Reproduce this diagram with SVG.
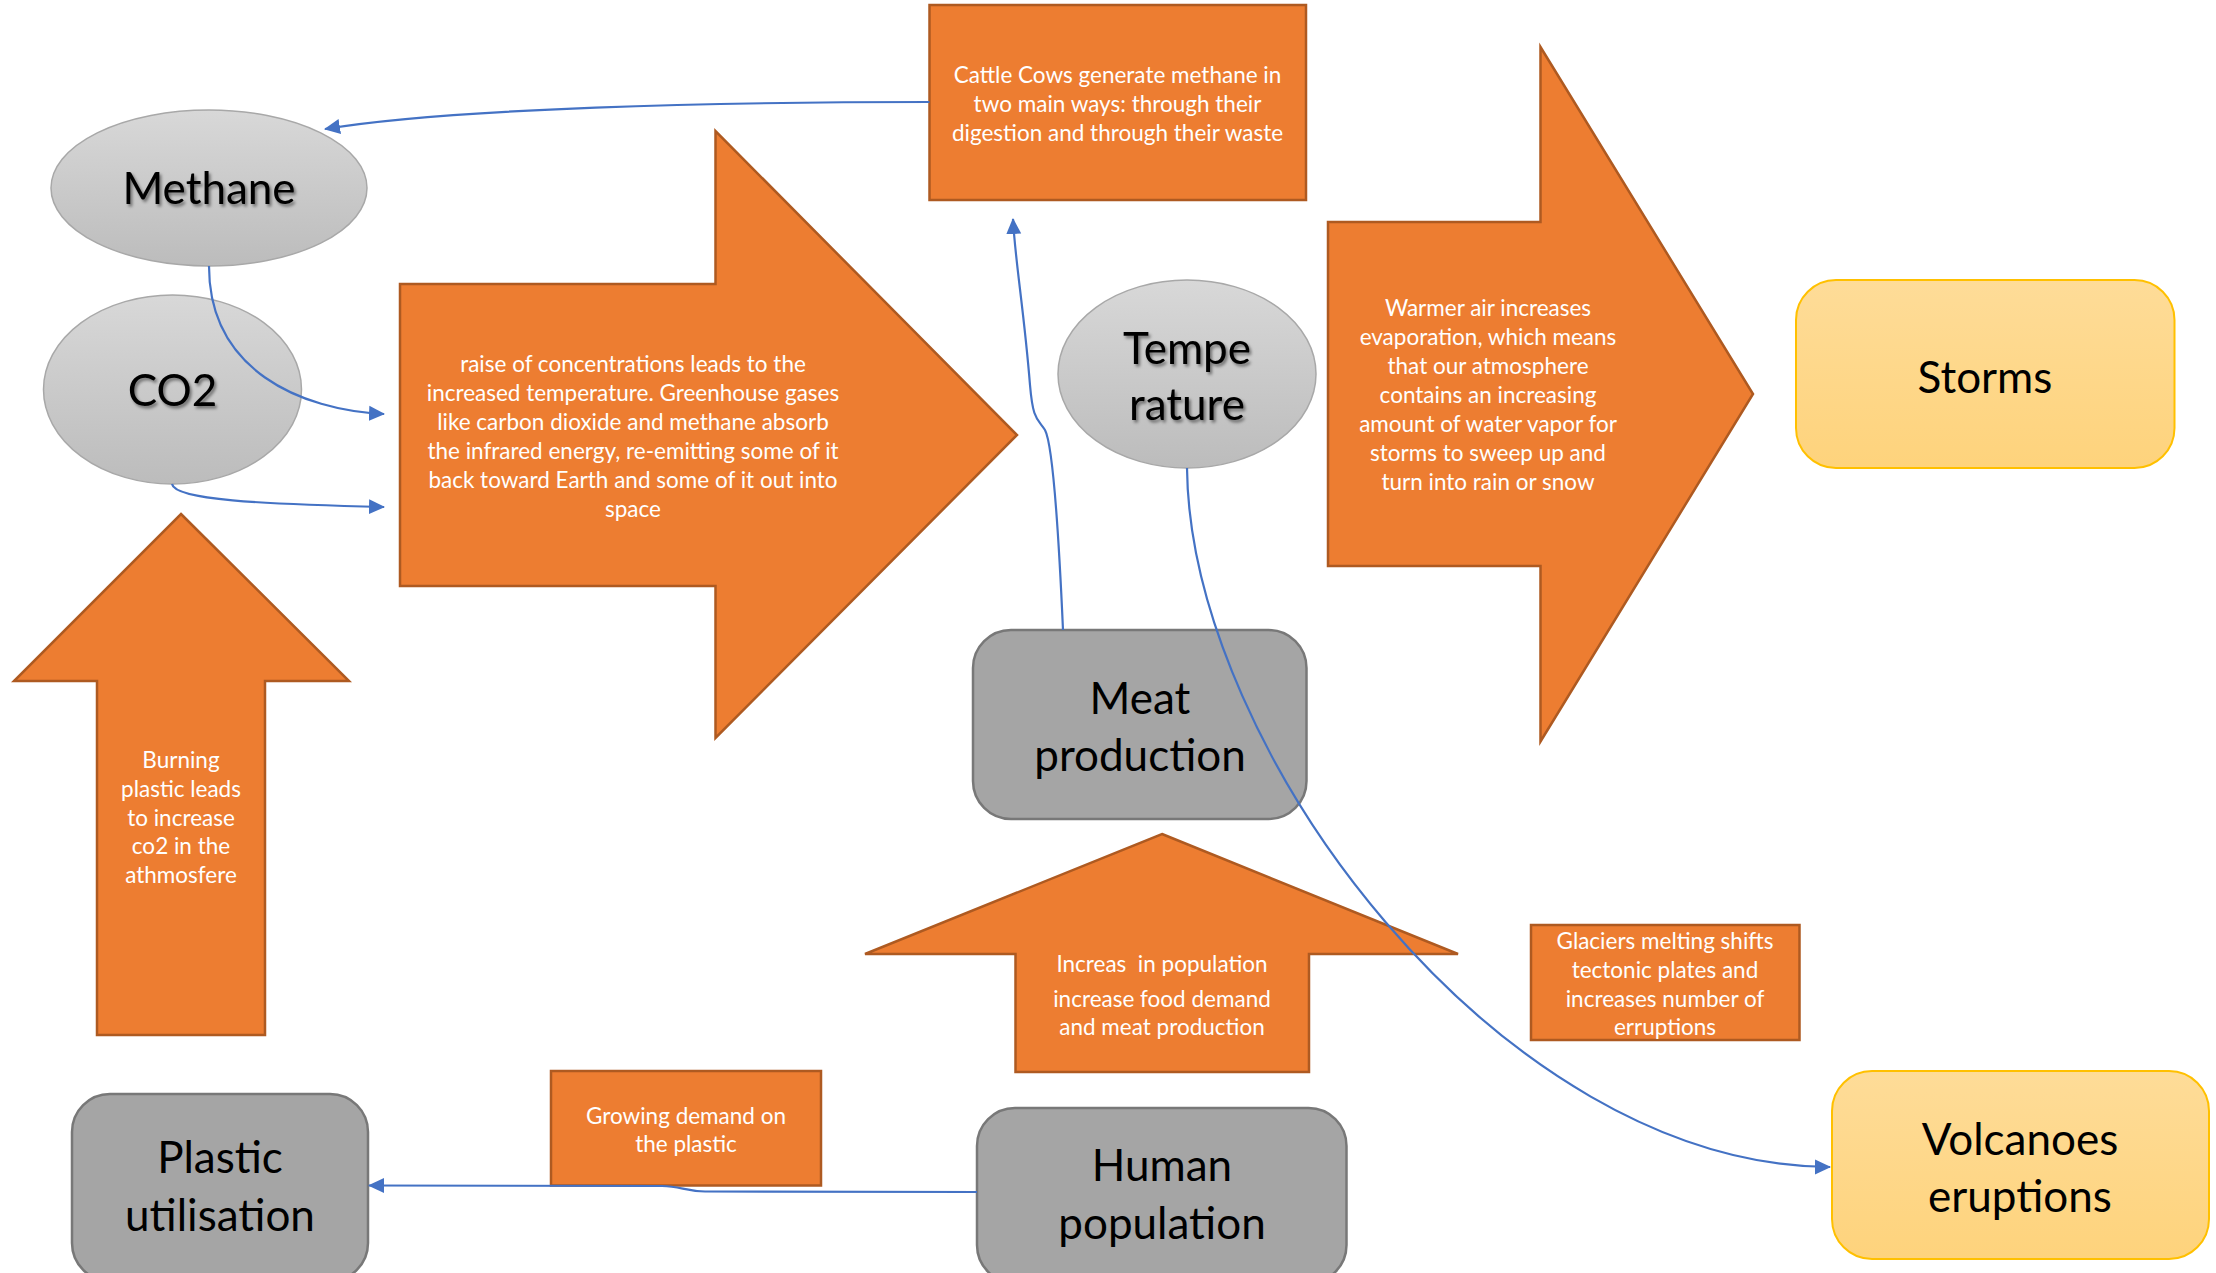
<svg xmlns="http://www.w3.org/2000/svg" width="2216" height="1273" viewBox="0 0 2216 1273">
  <defs>
    <linearGradient id="gEll" x1="0" y1="0" x2="0" y2="1">
      <stop offset="0" stop-color="#d8d8d8"/>
      <stop offset="1" stop-color="#bcbcbc"/>
    </linearGradient>
    <linearGradient id="gGold" x1="0" y1="0" x2="0" y2="1">
      <stop offset="0" stop-color="#fedc98"/>
      <stop offset="1" stop-color="#fed37c"/>
    </linearGradient>
    <filter id="shadow" x="-10%" y="-20%" width="130%" height="150%">
      <feDropShadow dx="2" dy="2.5" stdDeviation="1.6" flood-color="#000" flood-opacity="0.45"/>
    </filter>
    <marker id="ah" viewBox="0 0 16 16" refX="15" refY="8" markerWidth="16" markerHeight="16" markerUnits="userSpaceOnUse" orient="auto">
      <path d="M0,0.5 L16,8 L0,15.5 z" fill="#4472C4"/>
    </marker>
  </defs>
  <style>
    .orange { fill: #ED7D31; stroke: #AE5A21; stroke-width: 2.5; }
    .ell { fill: url(#gEll); stroke: #a8a8a8; stroke-width: 1.5; }
    .grey { fill: #A5A5A5; stroke: #787878; stroke-width: 2.5; }
    .gold { fill: url(#gGold); stroke: #FFC000; stroke-width: 2; }
    .small { font-family: Lato, "Liberation Sans", sans-serif; font-size: 22.5px; fill: #ffffff; text-anchor: middle; }
    .big { font-family: Lato, "Liberation Sans", sans-serif; font-size: 44px; fill: #000000; text-anchor: middle; }
    .conn { fill: none; stroke: #4472C4; stroke-width: 2.2; marker-end: url(#ah); }
  </style>

  <!-- Greenhouse effect: large right arrow -->
  <g id="arrow-greenhouse">
    <path class="orange" d="M400,284 L715.5,284 L715.5,131 L1017,435 L715.5,738 L715.5,586 L400,586 Z"/>
    <text class="small"><tspan x="633" y="372">raise of concentrations leads to the</tspan><tspan x="633" y="401">increased temperature. Greenhouse gases</tspan><tspan x="633" y="430">like carbon dioxide and methane absorb</tspan><tspan x="633" y="459">the infrared energy, re-emitting some of it</tspan><tspan x="633" y="488">back toward Earth and some of it out into</tspan><tspan x="633" y="517">space</tspan></text>
  </g>

  <!-- Evaporation: large right arrow -->
  <g id="arrow-evaporation">
    <path class="orange" d="M1328,222 L1540.5,222 L1540.5,47 L1753,394 L1540.5,741.5 L1540.5,566 L1328,566 Z"/>
    <text class="small"><tspan x="1488" y="316">Warmer air increases</tspan><tspan x="1488" y="345">evaporation, which means</tspan><tspan x="1488" y="374">that our atmosphere</tspan><tspan x="1488" y="403">contains an increasing</tspan><tspan x="1488" y="432">amount of water vapor for</tspan><tspan x="1488" y="461">storms to sweep up and</tspan><tspan x="1488" y="490">turn into rain or snow</tspan></text>
  </g>

  <!-- Burning plastic: up arrow -->
  <g id="arrow-burning">
    <path class="orange" d="M181,514 L349,681 L265,681 L265,1035 L97,1035 L97,681 L14,681 Z"/>
    <text class="small"><tspan x="181" y="768">Burning</tspan><tspan x="181" y="797">plastic leads</tspan><tspan x="181" y="826">to increase</tspan><tspan x="181" y="854">co2 in the</tspan><tspan x="181" y="883">athmosfere</tspan></text>
  </g>

  <!-- Population growth: up arrow -->
  <g id="arrow-population">
    <path class="orange" d="M1162,834 L1458,954 L1309,954 L1309,1072 L1015.5,1072 L1015.5,954 L865,954 Z"/>
    <text class="small"><tspan x="1162" y="972">Increas &#160;in population</tspan><tspan x="1162" y="1007">increase food demand</tspan><tspan x="1162" y="1035">and meat production</tspan></text>
  </g>

  <!-- Cattle note -->
  <g id="note-cattle">
    <rect class="orange" x="929.5" y="5" width="376.5" height="195"/>
    <text class="small"><tspan x="1117.5" y="83">Cattle Cows generate methane in</tspan><tspan x="1117.5" y="112">two main ways: through their</tspan><tspan x="1117.5" y="141">digestion and through their waste</tspan></text>
  </g>

  <!-- Glaciers note -->
  <g id="note-glaciers">
    <rect class="orange" x="1531" y="925" width="268.5" height="115"/>
    <text class="small"><tspan x="1665" y="949">Glaciers melting shifts</tspan><tspan x="1665" y="978">tectonic plates and</tspan><tspan x="1665" y="1007">increases number of</tspan><tspan x="1665" y="1035">erruptions</tspan></text>
  </g>

  <!-- Plastic demand note -->
  <g id="note-plastic-demand">
    <rect class="orange" x="551" y="1071" width="270" height="114.5"/>
    <text class="small"><tspan x="686" y="1124">Growing demand on</tspan><tspan x="686" y="1152">the plastic</tspan></text>
  </g>

  <!-- Gas and temperature nodes -->
  <g id="node-methane">
    <ellipse class="ell" cx="209" cy="188" rx="158" ry="78"/>
    <text class="big" x="209" y="204" filter="url(#shadow)">Methane</text>
  </g>
  <g id="node-co2">
    <ellipse class="ell" cx="172.5" cy="389.5" rx="129" ry="94.5"/>
    <text class="big" x="172.5" y="406" filter="url(#shadow)">CO2</text>
  </g>
  <g id="node-temperature">
    <ellipse class="ell" cx="1187" cy="374" rx="129" ry="94"/>
    <text class="big" filter="url(#shadow)"><tspan x="1187" y="364">Tempe</tspan><tspan x="1187" y="420">rature</tspan></text>
  </g>

  <!-- Human activity nodes -->
  <g id="node-meat">
    <rect class="grey" x="973" y="630" width="333.5" height="189" rx="38"/>
    <text class="big"><tspan x="1140" y="714">Meat</tspan><tspan x="1140" y="771">production</tspan></text>
  </g>
  <g id="node-human">
    <rect class="grey" x="977" y="1108" width="369.5" height="175" rx="38"/>
    <text class="big"><tspan x="1162" y="1181">Human</tspan><tspan x="1162" y="1239">population</tspan></text>
  </g>
  <g id="node-plastic">
    <rect class="grey" x="72" y="1094" width="296" height="187" rx="38"/>
    <text class="big"><tspan x="220" y="1173">Plastic</tspan><tspan x="220" y="1231">utilisation</tspan></text>
  </g>

  <!-- Outcome nodes -->
  <g id="node-storms">
    <rect class="gold" x="1796" y="280" width="378.5" height="188" rx="40"/>
    <text class="big" x="1985" y="393">Storms</text>
  </g>
  <g id="node-volcanoes">
    <rect class="gold" x="1832" y="1071" width="377" height="188" rx="40"/>
    <text class="big"><tspan x="2020" y="1155">Volcanoes</tspan><tspan x="2020" y="1212">eruptions</tspan></text>
  </g>

  <!-- Connectors -->
  <g id="connectors">
    <path class="conn" d="M929.5,102 C720,102 450,108 325,129"/>
    <path class="conn" d="M209,266 C209,370 300,410 384,414"/>
    <path class="conn" d="M172,484 C175,500 260,504 384,507"/>
    <path class="conn" d="M1063,630 C1059,540 1053,445 1045,430 C1037,418 1033,420 1030,385 C1024,310 1015,260 1013,219"/>
    <path class="conn" d="M1187,468 C1190,750 1500,1165 1830,1167"/>
    <path class="conn" d="M977,1192 L705,1191.5 C685,1191 680,1186 662,1186 L369,1185.5"/>
  </g>
</svg>
